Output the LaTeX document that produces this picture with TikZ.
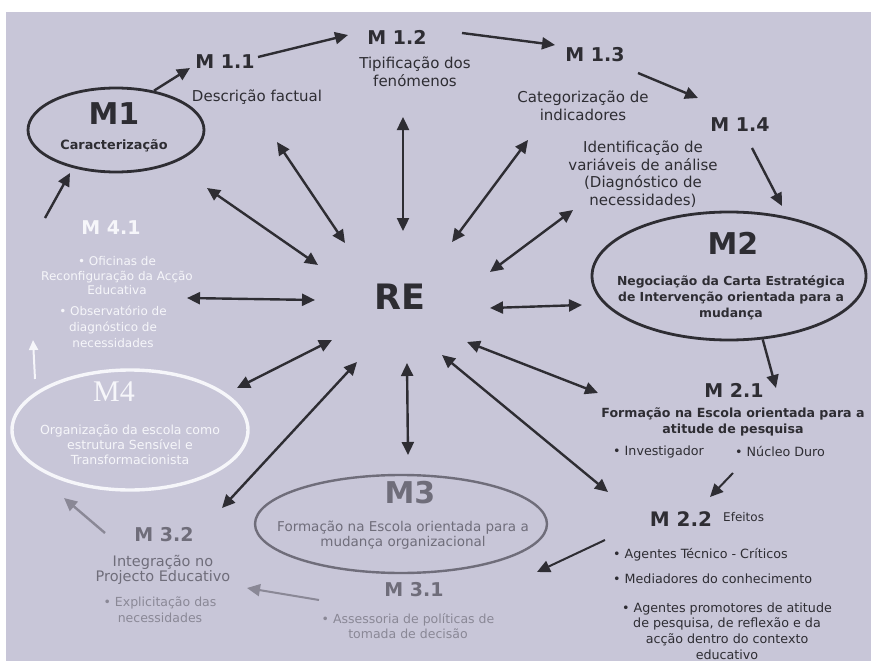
\documentclass[tikz,border=0pt]{standalone}
\usepackage{fontspec}
\setmainfont{DejaVu Sans}
\newfontfamily\romanfont{Liberation Serif}
\usetikzlibrary{arrows.meta,shapes.geometric}
\definecolor{paper}{HTML}{C8C6D8}
\definecolor{ink}{HTML}{2E2D33}
\definecolor{fade}{HTML}{6F6D7A}
\definecolor{faint}{HTML}{8A8896}
\definecolor{chalk}{HTML}{F6F6FA}

\begin{document}
\begin{tikzpicture}[x=1pt,y=-1pt,
  every node/.style={inner sep=0pt},
  arr/.style={line width=2.4pt, draw=ink, -{Triangle[length=13pt,width=12pt]}},
  dbl/.style={line width=2.4pt, draw=ink, {Triangle[length=13pt,width=12pt]}-{Triangle[length=13pt,width=12pt]}},
  oval/.style={ellipse, line width=2.8pt},
  mlab/.style={font=\fontsize{19}{21}\selectfont\bfseries, text=ink},
  body/.style={font=\fontsize{15}{17.5}\selectfont, text=ink, align=center},
  boldtxt/.style={font=\fontsize{12.4}{16}\selectfont\bfseries, text=ink, align=center},
  note/.style={font=\fontsize{12.7}{15.7}\selectfont, text=ink, align=center}]

\useasboundingbox (0,0) rectangle (871,661);
\fill[white] (0,0) rectangle (871,661);
\fill[paper] (6,12) rectangle (871,661);

% Centre
\node[font=\fontsize{35}{37}\selectfont\bfseries, text=ink] (re) at (400,297) {RE};

% M1 and its steps
\node[oval, draw=ink, minimum width=176pt, minimum height=84pt] (m1) at (116,130) {};
\node[font=\fontsize{30}{32}\selectfont\bfseries, text=ink] (m1t) at (114,114) {M1};
\node[font=\fontsize{12.8}{15}\selectfont\bfseries, text=ink] (m1s) at (114,146) {Caracterização};

\node[mlab] (m11) at (225,62) {M 1.1};
\node[body] (m11t) at (257,97) {Descrição factual};
\node[mlab] (m12) at (397,37) {M 1.2};
\node[body] (m12t) at (415,72) {Tipificação dos\\fenómenos};
\node[mlab] (m13) at (595,55) {M 1.3};
\node[body] (m13t) at (583,106) {Categorização de\\indicadores};
\node[mlab] (m14) at (740,125) {M 1.4};
\node[body] (m14t) at (643,174) {Identificação de\\variáveis de análise\\(Diagnóstico de\\necessidades)};

% M2 and its steps
\node[oval, draw=ink, minimum width=274pt, minimum height=128pt] (m2) at (729,276) {};
\node[font=\fontsize{30}{32}\selectfont\bfseries, text=ink] (m2t) at (733,243) {M2};
\node[boldtxt] (m2s) at (731,298) {Negociação da Carta Estratégica\\de Intervenção orientada para a\\mudança};

\node[mlab] (m21) at (734,390) {M 2.1};
\node[boldtxt, font=\fontsize{12.6}{15.5}\selectfont\bfseries] (m21t) at (733,422) {Formação na Escola orientada para a\\atitude de pesquisa};
\node[note, anchor=west] (m21a) at (613,452) {• Investigador};
\node[note, anchor=west] (m21b) at (735,452) {• Núcleo Duro};

\node[mlab, font=\fontsize{20}{22}\selectfont\bfseries] (m22) at (681,519) {M 2.2};
\node[note, anchor=west, font=\fontsize{12}{14}\selectfont] (m22e) at (723,517) {Efeitos};
\node[note, anchor=west] (m22a) at (613,555) {• Agentes Técnico - Críticos};
\node[note, anchor=west] (m22b) at (613,579) {• Mediadores do conhecimento};
\node[note] (m22c) at (727,631) {• Agentes promotores de atitude\\de pesquisa, de reflexão e da\\acção dentro do contexto\\educativo};

% M3 and its steps (faded)
\node[oval, draw=fade, line width=2.4pt, minimum width=292pt, minimum height=98pt] (m3) at (401,524) {};
\node[font=\fontsize{30}{32}\selectfont\bfseries, text=fade] (m3t) at (410,493) {M3};
\node[font=\fontsize{13.5}{15}\selectfont, text=fade, align=center] (m3s) at (403,535) {Formação na Escola orientada para a\\mudança organizacional};

\node[mlab, text=fade] (m31) at (414,590) {M 3.1};
\node[note, text=faint, font=\fontsize{12.5}{15}\selectfont] (m31t) at (408,626) {• Assessoria de políticas de\\tomada de decisão};
\node[mlab, text=fade] (m32) at (164,535) {M 3.2};
\node[note, text=fade, font=\fontsize{14.5}{15}\selectfont] (m32t) at (163,570) {Integração no\\Projecto Educativo};
\node[note, text=faint, font=\fontsize{12.5}{16}\selectfont] (m32s) at (160,610) {• Explicitação das\\necessidades};

% M4 and its step (white)
\node[oval, draw=chalk, line width=3.4pt, minimum width=236pt, minimum height=120pt] (m4) at (130,430) {};
\node[font=\romanfont\fontsize{30}{32}\selectfont, text=chalk] (m4t) at (114,392) {M4};
\node[note, text=chalk, font=\fontsize{12.5}{15}\selectfont] (m4s) at (130,445) {Organização da escola como\\estrutura Sensível e\\Transformacionista};

\node[mlab, text=chalk] (m41) at (111,228) {M 4.1};
\node[note, text=chalk, font=\fontsize{12}{14.5}\selectfont] (m41a) at (117,276) {• Oficinas de\\Reconfiguração da Acção\\Educativa};
\node[note, text=chalk, font=\fontsize{12}{16}\selectfont] (m41b) at (113,327) {• Observatório de\\diagnóstico de\\necessidades};

% arrows round RE
\foreach \n/\p/\q in {1/{207,188}/{318,265}, 2/{277,142}/{345,243}, 3/{403,117}/{403,231},
    4/{528,140}/{452,242}, 5/{573,210}/{490,272}, 6/{582,305}/{490,308},
    7/{598,393}/{467,342}, 8/{608,492}/{442,355}, 9/{408,455}/{407,363},
    10/{222,508}/{357,362}, 11/{237,388}/{332,340}, 12/{187,298}/{315,300}}{
  \coordinate (out\n) at (\p);
  \coordinate (in\n) at (\q);
  \draw[dbl] (out\n) -- (in\n);
}

% the cycle M1 -> M2 -> M3 -> M4
\coordinate (c1) at (190,68);
\coordinate (c2a) at (258,57);   \coordinate (c2) at (348,35);
\coordinate (c3a) at (462,33);   \coordinate (c3) at (555,45);
\coordinate (c4a) at (638,73);   \coordinate (c4) at (698,98);
\coordinate (c5a) at (752,148);  \coordinate (c5) at (782,206);
\coordinate (c6) at (776,388);
\coordinate (c7a) at (733,473);  \coordinate (c7) at (710,497);
\coordinate (c8a) at (605,540);  \coordinate (c8) at (537,572);
\coordinate (c9a) at (319,600);  \coordinate (c9) at (247,588);
\coordinate (c10a) at (105,533); \coordinate (c10) at (64,498);
\coordinate (c11a) at (35,379);  \coordinate (c11) at (33,340);
\coordinate (c12a) at (45,218);  \coordinate (c12) at (70,173);

\draw[arr] (m1.46) -- (c1);
\draw[arr] (c2a) -- (c2);
\draw[arr] (c3a) -- (c3);
\draw[arr] (c4a) -- (c4);
\draw[arr] (c5a) -- (c5);
\draw[arr] (m2.-62) -- (c6);
\draw[arr, line width=2pt] (c7a) -- (c7);
\draw[arr, line width=2pt] (c8a) -- (c8);
\draw[arr, draw=faint, line width=2pt] (c9a) -- (c9);
\draw[arr, draw=faint, line width=2.4pt] (c10a) -- (c10);
\draw[arr, draw=chalk, line width=2pt, -{Triangle[length=10pt,width=9pt]}] (c11a) -- (c11);
\draw[arr] (c12a) -- (c12);

\end{tikzpicture}
\end{document}
